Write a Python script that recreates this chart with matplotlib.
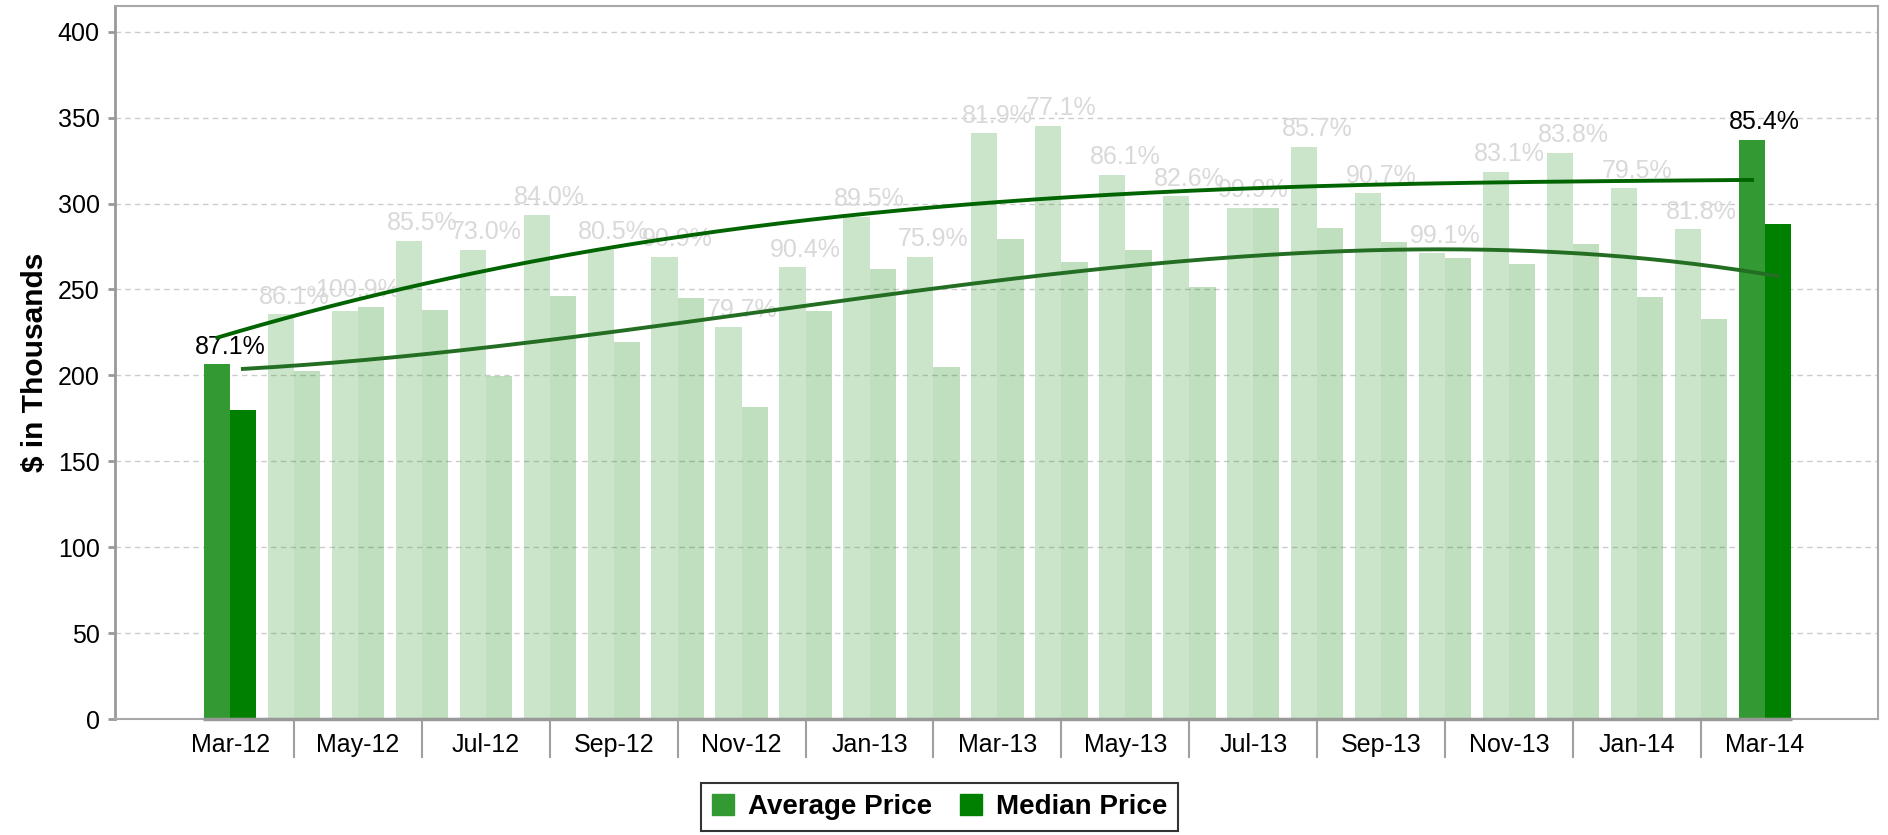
import numpy as np
import matplotlib
matplotlib.use('Agg')
import matplotlib.pyplot as plt
from matplotlib.patches import Patch

plt.rcParams['font.family'] = ['Liberation Sans', 'DejaVu Sans']

months = ['Mar-12', 'Apr-12', 'May-12', 'Jun-12', 'Jul-12', 'Aug-12', 'Sep-12',
          'Oct-12', 'Nov-12', 'Dec-12', 'Jan-13', 'Feb-13', 'Mar-13', 'Apr-13',
          'May-13', 'Jun-13', 'Jul-13', 'Aug-13', 'Sep-13', 'Oct-13', 'Nov-13',
          'Dec-13', 'Jan-14', 'Feb-14', 'Mar-14']
avg_price = [206.4, 235.6, 237.4, 278.5, 273.2, 293.6, 273.0, 269.2, 228.1, 262.9,
             292.4, 269.2, 340.8, 345.4, 316.9, 304.2, 297.7, 333.2, 306.0, 271.0,
             318.6, 329.7, 308.8, 285.1, 337.3]
median_price = [179.6, 202.8, 239.7, 237.9, 199.5, 246.5, 219.2, 245.2, 181.4, 237.4,
                261.7, 204.6, 279.3, 265.9, 272.7, 251.3, 297.7, 285.6, 277.5, 268.6,
                264.6, 276.2, 245.5, 233.1, 288.3]
pct_labels = ['87.1%', '86.1%', '100.9%', '85.5%', '73.0%', '84.0%', '80.5%', '90.9%',
              '79.7%', '90.4%', '89.5%', '75.9%', '81.9%', '77.1%', '86.1%', '82.6%',
              '99.9%', '85.7%', '90.7%', '99.1%', '83.1%', '83.8%', '79.5%', '81.8%',
              '85.4%']

# trend line readings (month position, value) taken off the chart
avg_trend_x = [-0.2, 5.5, 12.4, 19.3, 23.8]
avg_trend_y = [222, 271.5, 302, 312, 313.8]
med_trend_x = [0.2, 5.5, 12.4, 19.3, 21.8, 23.0, 24.2]
med_trend_y = [203.6, 223.5, 256.5, 272.7, 270, 265.4, 256.6]

avg_col = '#339933'
med_col = '#008000'

x = np.arange(len(months))
w = 0.41
hi = [0, len(months) - 1]

fig = plt.figure(figsize=(18.88, 8.35), dpi=100)
ax = fig.add_axes([0.0609, 0.1389, 0.9338, 0.8539])

for i in range(len(months)):
    a = 1.0 if i in hi else 0.25
    ax.bar(x[i] - w / 2, avg_price[i], w, color=avg_col, alpha=a, zorder=2, linewidth=0)
    ax.bar(x[i] + w / 2, median_price[i], w, color=med_col, alpha=a, zorder=2, linewidth=0)
    top = max(avg_price[i], median_price[i])
    ax.annotate(pct_labels[i], (x[i], top), xytext=(0, 4), textcoords='offset points',
                ha='center', va='bottom', fontsize=18,
                color='black' if i in hi else '#d9d9d9', zorder=3)

# smooth trend curves
ca = np.polyfit(avg_trend_x, avg_trend_y, 3)
cm = np.polyfit(med_trend_x, med_trend_y, 3)
xa = np.linspace(avg_trend_x[0], avg_trend_x[-1], 200)
xm = np.linspace(med_trend_x[0], med_trend_x[-1], 200)
ax.plot(xa, np.polyval(ca, xa), color='#006400', lw=2.8, zorder=4)
ax.plot(xm, np.polyval(cm, xm), color='#236e23', lw=2.8, zorder=4)

ax.set_xlim(-1.8, 25.77)
ax.set_ylim(0, 415)
ax.set_yticks(range(0, 401, 50))
ax.yaxis.grid(True, linestyle=(0, (4, 3)), color='#cccccc', lw=1, zorder=0)
ax.set_axisbelow(True)

ax.set_xticks(x[::2])
ax.set_xticklabels(months[::2])
ax.set_xticks(x[1::2], minor=True)
ax.tick_params(axis='x', which='major', length=0, labelsize=18, pad=10)
ax.tick_params(axis='x', which='minor', length=28, width=1.5, color='#a0a0a0')
ax.tick_params(axis='y', length=5, width=2, color='#999999', labelsize=18, pad=6)

for s in ax.spines.values():
    s.set_color('#a8a8a8')
    s.set_linewidth(1.5)
ax.spines['left'].set_color('#999999')
ax.spines['left'].set_linewidth(2)
ax.hlines(0, -w * 1.05, x[-1] + w * 1.05, color='#999999', lw=2.5, zorder=5, clip_on=False)

ax.set_ylabel('$ in Thousands', fontsize=21.5, fontweight='bold', labelpad=6)

handles = [Patch(color=avg_col, label='Average Price'), Patch(color=med_col, label='Median Price')]
leg = fig.legend(handles=handles, loc='center', bbox_to_anchor=(0.4976, 0.0335), ncol=2,
                 frameon=True, fancybox=False, edgecolor='black',
                 prop={'weight': 'bold', 'size': 20}, handlelength=0.8, handleheight=0.8,
                 handletextpad=0.5, columnspacing=1.0, borderpad=0.4)
leg.get_frame().set_linewidth(1.5)

fig.savefig('out.png', dpi=100)
